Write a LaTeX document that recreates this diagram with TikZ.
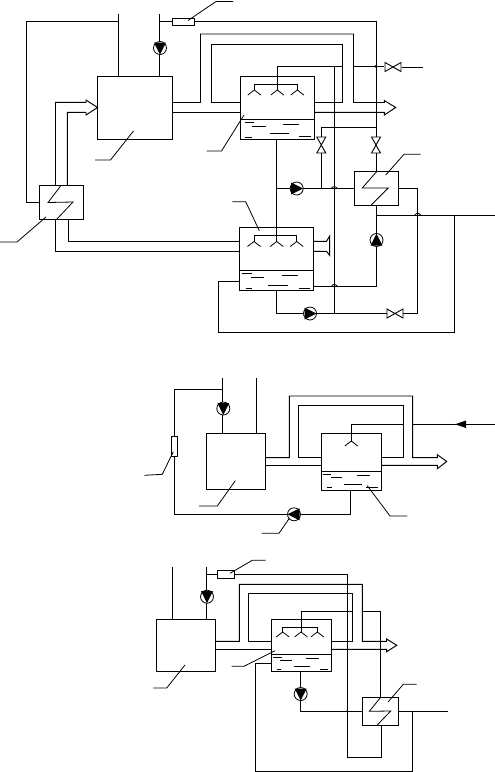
\documentclass[tikz,border=0pt]{standalone}
\usetikzlibrary{calc}
\tikzset{
  pipe/.style={line width=0.95pt,line join=miter},
  thinl/.style={line width=0.8pt},
  boxn/.style={draw,line width=0.95pt,rectangle,inner sep=0pt,outer sep=0pt},
  pumpn/.style={draw,line width=0.8pt,circle,fill=white,inner sep=0pt,outer sep=0pt,minimum size=13pt},
  valven/.style={rectangle,inner sep=0pt,outer sep=0pt,minimum size=1pt}
}
% name, x, y, angle
\newcommand{\pumpat}[4]{%
  \node[pumpn] (#1) at (#2,#3) {};
  \begin{scope}[shift={(#1.center)},rotate=#4]
    \fill (-5.5pt,6pt) -- (6.5pt,0pt) -- (-5.5pt,-6pt) -- cycle;
  \end{scope}}
% name, x, y, angle
\newcommand{\valveat}[4]{%
  \node[valven] (#1) at (#2,#3) {};
  \begin{scope}[shift={(#1.center)},rotate=#4]
    \fill[white] (-8pt,-4.5pt) rectangle (8pt,4.5pt);
    \draw[line width=0.9pt] (-8pt,-4.5pt) -- (8pt,4.5pt) -- (8pt,-4.5pt) -- (-8pt,4.5pt) -- cycle;
  \end{scope}}
% x, y of apex
\newcommand{\sprk}[2]{\draw[thinl] (#1-6.5,#2+5) -- (#1,#2) -- (#1+6.5,#2+5);}
\newcommand{\humpat}[2]{\draw[thinl] (#1-3,#2) .. controls (#1-1.5,#2-2.5) and (#1+1.5,#2-2.5) .. (#1+3,#2);}
\newcommand{\dashl}[3]{\draw[thinl] (#1,#3) -- (#2,#3);}
\begin{document}
\begin{tikzpicture}[x=1pt,y=-1pt]
\useasboundingbox (0,0) rectangle (495,772);
%% ---------- Upper scheme
\node[boxn,minimum width=74.5pt,minimum height=63.5pt] (A) at (134.75,107.75) {};
\node[boxn,minimum width=74pt,minimum height=63.5pt] (B) at (277.5,107.75) {};
\node[boxn,minimum width=74.4pt,minimum height=63pt] (C) at (276.5,258.8) {};
\node[boxn,minimum width=43.5pt,minimum height=34.2pt] (H1) at (61.25,202.6) {};
\node[boxn,minimum width=44pt,minimum height=34.5pt] (H2) at (376,188.3) {};
\draw[pipe] (B.west |- 0,119.5) -- (B.east |- 0,119.5);
\draw[pipe] (C.west |- 0,270) -- (C.east |- 0,270);
% feeds
\draw[pipe] (118,14) -- (118,14 |- A.north);
\draw[pipe] (159.5,14) -- (159.5,14 |- A.north);
\pumpat{P1}{160}{48}{-90}
\coordinate (j1) at (118,21.5);
\draw[pipe] (j1) -- (26.5,21.5) -- (26.5,202.5) -- (H1.west |- 0,202.5);
\node[boxn,fill=white,minimum width=22pt,minimum height=7pt] (F1) at (183.5,22) {};
\draw[pipe] (159.5,21.5) -- (F1.west |- 0,21.5);
\draw[pipe] (F1.east |- 0,21.5) -- (376,21.5) -- (376,21.5 |- H2.north);
% double pipes
\draw[pipe] (A.east |- 0,102.5) -- (200.5,102.5) -- (200.5,34) -- (353.5,34) -- (353.5,102.5) -- (384.3,102.5) -- (384.3,100.5) -- (395.7,107.5) -- (384.3,115) -- (384.3,112.3) -- (B.east |- 0,112.3);
\draw[pipe] (B.west |- 0,102.5) -- (211.5,102.5) -- (211.5,44.5) -- (342,44.5) -- (342,102.5) -- (B.east |- 0,102.5);
\draw[pipe] (A.east |- 0,112.3) -- (B.west |- 0,112.3);
% spray B
\draw[pipe] (277.3,84) -- (277.3,66.3) -- (342,66.3);
\draw[pipe] (353.5,66.3) -- (384,66.3);
\draw[thinl] (254.3,84) -- (297.3,84);
\foreach \xx in {254.3,277.3,297.3} {\draw[thinl] (\xx,84) -- (\xx,90); \sprk{\xx}{90}}
\valveat{V1}{393}{67}{0}
\draw[pipe] (V1.east) ++(8,0) -- (422.5,67);
\fill (375.5,66.3) circle (1.3pt);
% middle verticals
\draw[pipe] (334.3,66.3) -- (334.3,313.5);
\draw[pipe] (321.3,188.5) -- (321.3,127.3) -- (376,127.3);
\valveat{V2}{321.3}{145}{90}
\valveat{V3}{376}{145}{90}
\draw[pipe] (276.7,139.5) -- (276.7,227.3);
\draw[pipe] (276.7,188.5) -- (H2.west |- 0,188.5);
\pumpat{P2}{296.7}{188.5}{0}
\draw[pipe] (H2.east |- 0,188.5) -- (417.7,188.5) -- (417.7,313.5);
\draw[pipe] (376,205.5) -- (376,286.3) -- (C.east |- 0,286.3);
\pumpat{P3}{376.5}{240}{90}
\draw[pipe] (376,215.2) -- (494.5,215.2);
\draw[pipe] (454.7,215.2) -- (454.7,332.5) -- (218.3,332.5) -- (218.3,281) -- (C.west |- 0,281);
\draw[pipe] (276.7,290.3) -- (276.7,313.5) -- (417.7,313.5);
\pumpat{P4}{310}{313.5}{0}
\valveat{V4}{395}{313.5}{0}
\humpat{334.3}{188.5}\humpat{334.3}{286.3}\humpat{417.7}{215.2}
% C sprays and outlet
\draw[thinl] (254,242) -- (254,235.3) -- (296.7,235.3) -- (296.7,242);
\draw[thinl] (276.7,227.3) -- (276.7,242);
\foreach \xx in {254,276.7,296.7} {\sprk{\xx}{241.5}}
\draw[pipe] (C.east |- 0,241.3) -- (326.5,241.3) -- (329.7,236) -- (329.7,255.5) -- (326.5,251.3) -- (C.east |- 0,251.3);
% H1 pipes
\draw[pipe] (H1.north -| 55.5,0) -- (55.5,102.4) -- (86,102.4) -- (86,100) -- (97.5,107.5) -- (86,115) -- (86,112.4) -- (67.4,112.4) -- (H1.north -| 67.4,0);
\draw[pipe] (H1.south -| 68,0) -- (68,241.3) -- (C.west |- 0,241.3);
\draw[pipe] (H1.south -| 55.7,0) -- (55.7,251.3) -- (C.west |- 0,251.3);
% zigzags
\draw[thinl] (61,185.5) -- (48,202.5) -- (73,202) -- (56.5,219.5);
\draw[thinl] (376.7,171.5) -- (362.3,188) -- (388.3,188) -- (371,205.3);
% water
\dashl{245}{254}{122.3}\dashl{252}{265.7}{126.3}\dashl{283}{299}{124.3}\dashl{270}{289}{133.3}\dashl{299}{311}{136}\dashl{245}{252}{137.3}
\dashl{241.7}{252.3}{273.3}\dashl{251}{264.3}{277.3}\dashl{282.3}{298.3}{275.3}\dashl{268.3}{288.3}{285.3}\dashl{299}{310}{288.3}\dashl{245.7}{251.7}{288.3}
% leaders
\draw[thinl] (188,20.5) -- (216,1.5) -- (233,1.5);
\draw[thinl] (133.5,131) -- (110.5,160) -- (95,160);
\draw[thinl] (244,115) -- (221.5,151) -- (206.5,151);
\draw[thinl] (385.7,175) -- (404,154.3) -- (420.7,154.3);
\draw[thinl] (46,217) -- (17,242) -- (0,242);
\draw[thinl] (259.3,230.7) -- (245.7,201.7) -- (232.3,201.7);
%% ---------- Middle scheme
\node[boxn,minimum width=59.4pt,minimum height=56.3pt] (D) at (236,461.15) {};
\node[boxn,minimum width=60pt,minimum height=57pt] (E) at (351.3,461.5) {};
\draw[pipe] (E.west |- 0,471.3) -- (E.east |- 0,471.3);
\draw[pipe] (222.3,378.3) -- (222.3,378.3 |- D.north);
\draw[pipe] (256.3,378.3) -- (256.3,378.3 |- D.north);
\pumpat{P5}{223.3}{408.5}{-90}
\draw[pipe] (222.3,389.3) -- (174.3,389.3) -- (174.3,514.3) -- (350.3,514.3) -- (350.3,514.3 |- E.south);
\node[boxn,fill=white,minimum width=6.4pt,minimum height=20.3pt] (F2) at (174.5,446.2) {};
\pumpat{P6}{294}{514.3}{180}
\draw[pipe] (D.east |- 0,457.7) -- (289.3,457.7) -- (289.3,396) -- (412.7,396) -- (412.7,457.7) -- (437.3,457.7) -- (437.3,454.7) -- (446.7,461.5) -- (437.3,468.7) -- (437.3,465.3) -- (E.east |- 0,465.3);
\draw[pipe] (E.west |- 0,457.7) -- (298.3,457.7) -- (298.3,405) -- (403.7,405) -- (403.7,457.7) -- (E.east |- 0,457.7);
\draw[pipe] (D.east |- 0,465.3) -- (E.west |- 0,465.3);
\draw[pipe] (351.3,441.7) -- (351.3,424.3) -- (403.7,424.3);
\sprk{351.3}{441}
\coordinate (in2) at (494.7,424.3);
\draw[pipe] (in2) -- (412.7,424.3);
\fill (455,424.3) -- (466,420.5) -- (466,428) -- cycle;
\dashl{322.7}{331.3}{474.3}\dashl{330.7}{341.7}{477.3}\dashl{356.7}{370}{475.3}\dashl{344.3}{361.7}{484.3}\dashl{366}{378.3}{487.3}\dashl{326.7}{331.7}{487.3}
\draw[thinl] (173.3,451.7) -- (162.3,474.3) -- (144.3,475.3);
\draw[thinl] (235.3,480.7) -- (217.3,506) -- (199,506);
\draw[thinl] (367.3,485.7) -- (390,516) -- (407.3,516);
\draw[thinl] (289.3,518.3) -- (279,533.3) -- (261.7,533.3);
%% ---------- Lower scheme
\node[boxn,minimum width=59.7pt,minimum height=52.4pt] (K) at (185.85,645.5) {};
\node[boxn,minimum width=59.3pt,minimum height=52.4pt] (G) at (301.35,645.5) {};
\node[boxn,minimum width=35.7pt,minimum height=28.4pt] (H3) at (380.15,711.5) {};
\draw[pipe] (G.west |- 0,654.7) -- (G.east |- 0,654.7);
\draw[pipe] (172.3,567.3) -- (172.3,567.3 |- K.north);
\draw[pipe] (206.3,567.3) -- (206.3,567.3 |- K.north);
\pumpat{P7}{207}{596.7}{-90}
\node[boxn,fill=white,minimum width=17.4pt,minimum height=7.3pt] (F3) at (226,574.6) {};
\draw[pipe] (206.3,574.3) -- (F3.west |- 0,574.3);
\draw[pipe] (F3.east |- 0,574.3) -- (347.3,574.3) -- (347.3,757.3) -- (381.7,757.3) -- (381.7,757.3 |- H3.south);
\draw[pipe] (K.east |- 0,641.3) -- (239.3,641.3) -- (239.3,584.3) -- (362.3,584.3) -- (362.3,641.3) -- (386.7,641.3) -- (386.7,639) -- (396.7,645.3) -- (386.7,651.7) -- (386.7,649.3) -- (G.east |- 0,649.3);
\draw[pipe] (G.west |- 0,641.3) -- (248.3,641.3) -- (248.3,593) -- (352.7,593) -- (352.7,641.3) -- (G.east |- 0,641.3);
\draw[pipe] (K.east |- 0,649.3) -- (G.west |- 0,649.3);
\draw[pipe] (301,627.3) -- (301,611.3) -- (352.7,611.3);
\draw[pipe] (362.3,611.3) -- (380.7,611.3) -- (380.7,611.3 |- H3.north);
\draw[thinl] (282.7,633) -- (282.7,627.3) -- (317.3,627.3) -- (317.3,633);
\draw[thinl] (301,627.3) -- (301,633);
\foreach \xx in {282.7,301,317.3} {\sprk{\xx}{632}}
\draw[pipe] (300.7,671.7) -- (300.7,711.3) -- (H3.west |- 0,711.3);
\pumpat{P8}{300.7}{694}{-90}
\fill (347.3,711.3) circle (1.2pt);
\draw[pipe] (H3.east |- 0,711.3) -- (448.3,711.3);
\draw[pipe] (412.7,711.3) -- (412.7,771.3) -- (255.3,771.3) -- (255.3,663.3) -- (G.west |- 0,663.3);
\draw[thinl] (380.7,697.3) -- (369.3,711.3) -- (390.7,711) -- (377.3,725);
\dashl{272.7}{281.7}{657.3}\dashl{280}{291.7}{660}\dashl{306}{319.3}{658.3}\dashl{294.3}{310}{666.3}\dashl{320}{328.3}{669}\dashl{276.7}{280.7}{669}
\draw[thinl] (185,665) -- (166.7,688) -- (153.3,688);
\draw[thinl] (275,650.7) -- (244,666.3) -- (231.7,666.3);
\draw[thinl] (230,573.3) -- (252.3,560.3) -- (265.7,560.3);
\draw[thinl] (388.3,701.7) -- (403.3,684.3) -- (416.7,684.3);
\end{tikzpicture}
\end{document}
